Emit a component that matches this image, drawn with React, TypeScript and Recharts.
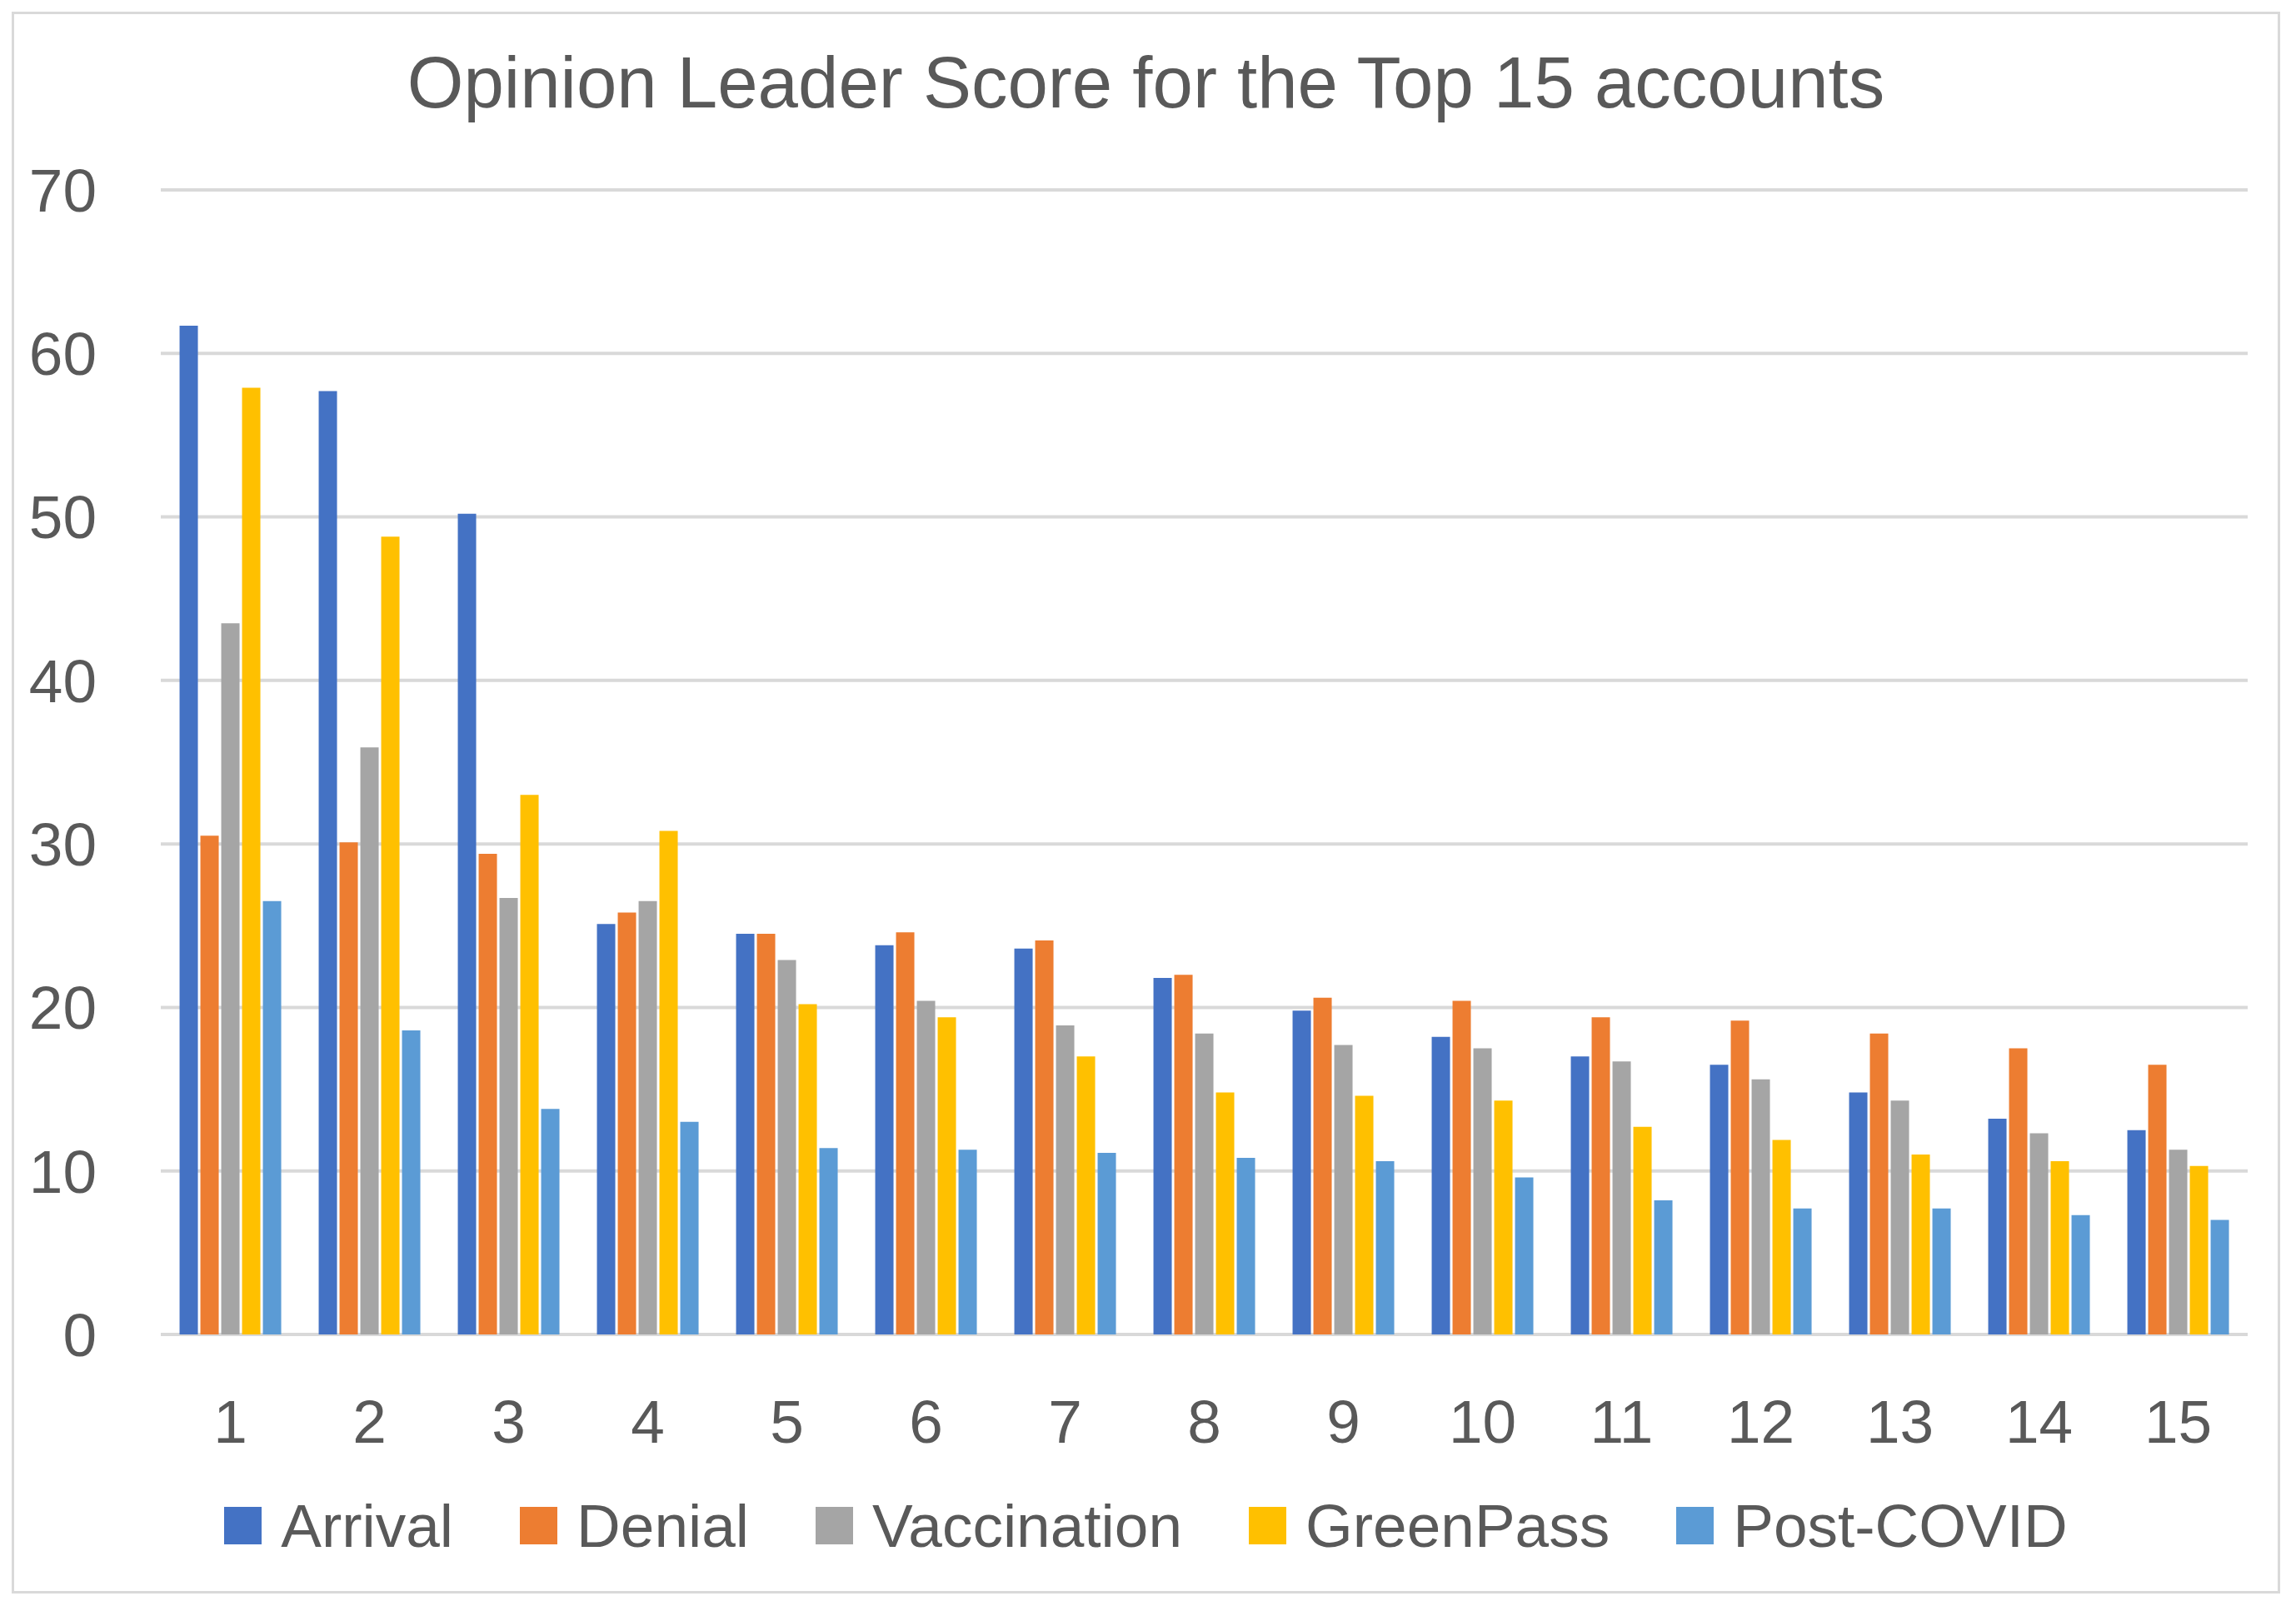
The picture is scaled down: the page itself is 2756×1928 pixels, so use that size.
import React from 'react';
import { BarChart, Bar, XAxis, YAxis, CartesianGrid } from 'recharts';

const accounts = ['1', '2', '3', '4', '5', '6', '7', '8', '9', '10', '11', '12', '13', '14', '15'];
const arrival = [61.7, 57.7, 50.2, 25.1, 24.5, 23.8, 23.6, 21.8, 19.8, 18.2, 17.0, 16.5, 14.8, 13.2, 12.5];
const denial = [30.5, 30.1, 29.4, 25.8, 24.5, 24.6, 24.1, 22.0, 20.6, 20.4, 19.4, 19.2, 18.4, 17.5, 16.5];
const vaccination = [43.5, 35.9, 26.7, 26.5, 22.9, 20.4, 18.9, 18.4, 17.7, 17.5, 16.7, 15.6, 14.3, 12.3, 11.3];
const greenPass = [57.9, 48.8, 33.0, 30.8, 20.2, 19.4, 17.0, 14.8, 14.6, 14.3, 12.7, 11.9, 11.0, 10.6, 10.3];
const postCovid = [26.5, 18.6, 13.8, 13.0, 11.4, 11.3, 11.1, 10.8, 10.6, 9.6, 8.2, 7.7, 7.7, 7.3, 7.0];
const yTicks = [0, 10, 20, 30, 40, 50, 60, 70];

const series = [
  { key: 'Arrival', values: arrival, color: '#4472C4' },
  { key: 'Denial', values: denial, color: '#ED7D31' },
  { key: 'Vaccination', values: vaccination, color: '#A5A5A5' },
  { key: 'GreenPass', values: greenPass, color: '#FFC000' },
  { key: 'Post-COVID', values: postCovid, color: '#5B9BD5' },
];

const FONT = '"Liberation Sans", Arial, sans-serif';
const TEXT = '#595959';

const data = accounts.map((name, i) => {
  const row: { [k: string]: string | number } = { name };
  series.forEach(s => { row[s.key] = s.values[i]; });
  return row;
});

const App: React.FC = () => {
  return (
    <div style={{ position: 'absolute', left: 0, top: 0, width: 2756, height: 1928, background: '#fff', fontFamily: FONT }}>
      <div style={{ position: 'absolute', left: 14, top: 14, width: 2717, height: 1893, border: '3px solid #d9d9d9' }} />
      <div style={{ position: 'absolute', left: 14, top: 55, width: 2723, textAlign: 'center', fontSize: 87, lineHeight: 1, color: TEXT }}>
        Opinion Leader Score for the Top 15 accounts
      </div>
      <div style={{ position: 'absolute', left: 0, top: 0 }}>
        <BarChart
          width={2756}
          height={1928}
          data={data}
          margin={{ top: 228, right: 58, bottom: 226, left: 93 }}
          barCategoryGap="13.5%"
          barGap={3}
        >
          <CartesianGrid vertical={false} stroke="#d9d9d9" strokeWidth={4} />
          <XAxis
            dataKey="name"
            height={100}
            axisLine={false}
            tickLine={false}
            tickSize={0}
            tickMargin={78}
            tick={{ fontSize: 73, fill: TEXT, fontFamily: FONT }}
            interval={0}
          />
          <YAxis
            width={100}
            domain={[0, 70]}
            ticks={yTicks}
            axisLine={false}
            tickLine={false}
            tickSize={0}
            tickMargin={77}
            tick={{ fontSize: 73, fill: TEXT, fontFamily: FONT }}
          />
          {series.map(s => (
            <Bar key={s.key} dataKey={s.key} fill={s.color} isAnimationActive={false} />
          ))}
        </BarChart>
      </div>
      <div style={{ position: 'absolute', left: 14, top: 1786, width: 2723, height: 90, display: 'flex', alignItems: 'center', justifyContent: 'center' }}>
        {series.map((s, i) => (
          <div key={s.key} style={{ display: 'flex', alignItems: 'center', marginRight: i < series.length - 1 ? 80 : 0 }}>
            <div style={{ width: 45, height: 45, background: s.color, marginRight: 23 }} />
            <span style={{ fontSize: 73, lineHeight: 1, color: TEXT }}>{s.key}</span>
          </div>
        ))}
      </div>
    </div>
  );
};

export default App;
